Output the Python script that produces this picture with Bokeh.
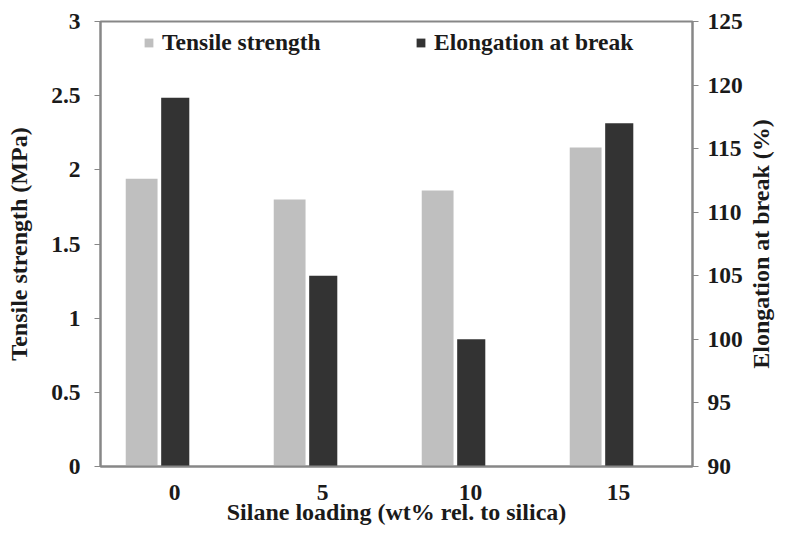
from bokeh.plotting import figure
from bokeh.layouts import row
from bokeh.models import (ColumnDataSource, FactorRange, Range1d, LinearAxis, FixedTicker,
                          CustomJSTickFormatter, Legend, LegendItem, Title)
from bokeh.transform import dodge
from bokeh.embed import file_html
from bokeh.resources import INLINE

# ---- data ----
loadings = ["0", "5", "10", "15"]
tensile_strength = [1.94, 1.80, 1.86, 2.15]          # MPa (left axis)
elongation_at_break = [119, 105, 100, 117]           # % (right axis)
left_ticks = [0, 0.5, 1, 1.5, 2, 2.5, 3]
left_labels = ["0", "0.5", "1", "1.5", "2", "2.5", "3"]
right_ticks = [90, 95, 100, 105, 110, 115, 120, 125]
right_labels = ["90", "95", "100", "105", "110", "115", "120", "125"]

FONT = "Liberation Serif, Times New Roman, serif"
FS = "23.5px"
TFS = "24px"
TXT = "#1a1a1a"
AX = "#878787"
LIGHT = "#bfbfbf"
DARK = "#333333"

src = ColumnDataSource(dict(x=loadings, ts=tensile_strength, el=elongation_at_break,
                            el0=[90] * len(loadings)))

p = figure(width=745, height=527, x_range=FactorRange(*loadings), y_range=Range1d(0, 3),
           output_backend="svg", toolbar_location=None,
           min_border_left=100, min_border_right=51, min_border_top=21, min_border_bottom=55)
p.extra_y_ranges = {"el": Range1d(90, 125)}
p.x_range.range_padding = 0
p.xgrid.visible = False
p.ygrid.visible = False
p.outline_line_color = AX
p.outline_line_width = 2
p.background_fill_color = "white"

r1 = p.vbar(x=dodge("x", -0.222, range=p.x_range), top="ts", width=0.215, source=src,
            fill_color=LIGHT, line_color=None)
r2 = p.vbar(x=dodge("x", 0.005, range=p.x_range), top="el", bottom="el0", width=0.19,
            source=src, fill_color=DARK, line_color=None, y_range_name="el")

def style(ax):
    ax.axis_line_color = AX
    ax.axis_line_width = 2
    ax.major_tick_line_color = AX
    ax.major_tick_line_width = 1
    ax.minor_tick_line_color = None
    ax.major_tick_in = 0
    ax.major_label_text_font = FONT
    ax.major_label_text_font_style = "bold"
    ax.major_label_text_font_size = FS
    ax.major_label_text_color = TXT
    ax.axis_label_text_font = FONT
    ax.axis_label_text_font_style = "bold"
    ax.axis_label_text_font_size = TFS
    ax.axis_label_text_color = TXT

# left axis
ly = p.yaxis[0]
style(ly)
ly.ticker = FixedTicker(ticks=left_ticks)
ly.formatter = CustomJSTickFormatter(args=dict(t=left_ticks, l=left_labels),
                                     code="const i = t.indexOf(tick); return i >= 0 ? l[i] : '';")
ly.major_tick_out = 6
ly.major_label_standoff = 14
ly.axis_label = "Tensile strength (MPa)"
ly.axis_label_standoff = 16

# right axis (ticks and numbers only; its title sits in the narrow panel beside)
ry = LinearAxis(y_range_name="el")
style(ry)
ry.ticker = FixedTicker(ticks=right_ticks)
ry.formatter = CustomJSTickFormatter(args=dict(t=right_ticks, l=right_labels),
                                     code="const i = t.indexOf(tick); return i >= 0 ? l[i] : '';")
ry.major_tick_out = 6
ry.major_label_standoff = 9
p.add_layout(ry, "right")

# bottom axis
bx = p.xaxis[0]
style(bx)
bx.major_tick_out = 0
bx.major_tick_line_color = None
bx.major_label_standoff = 18
bx.axis_label = "Silane loading (wt% rel. to silica)"
bx.axis_label_standoff = -4

def mk_legend(item, loc):
    return Legend(items=[item], location=loc, orientation="horizontal",
                  padding=0, margin=0, border_line_color=None, background_fill_alpha=0,
                  glyph_width=11, glyph_height=11, label_standoff=8,
                  label_text_font=FONT, label_text_font_style="bold",
                  label_text_font_size=FS, label_text_color=TXT)

p.add_layout(mk_legend(LegendItem(label="Tensile strength", renderers=[r1]), (43, 410)))
p.add_layout(mk_legend(LegendItem(label="Elongation at break", renderers=[r2]), (315, 410)))

# narrow panel holding the right-hand axis title, read bottom to top
p2 = figure(width=30, height=527, output_backend="svg", toolbar_location=None,
            x_axis_type=None, y_axis_type=None,
            min_border_left=0, min_border_right=0, min_border_top=21, min_border_bottom=55)
p2.outline_line_color = None
p2.xgrid.visible = False
p2.ygrid.visible = False
p2.add_layout(Title(text="Elongation at break (%)", align="center", standoff=0,
                    text_font=FONT, text_font_style="bold", text_font_size=TFS,
                    text_color=TXT), "left")

layout = row(p, p2, spacing=0)
open("out.html", "w").write(file_html(layout, INLINE))
